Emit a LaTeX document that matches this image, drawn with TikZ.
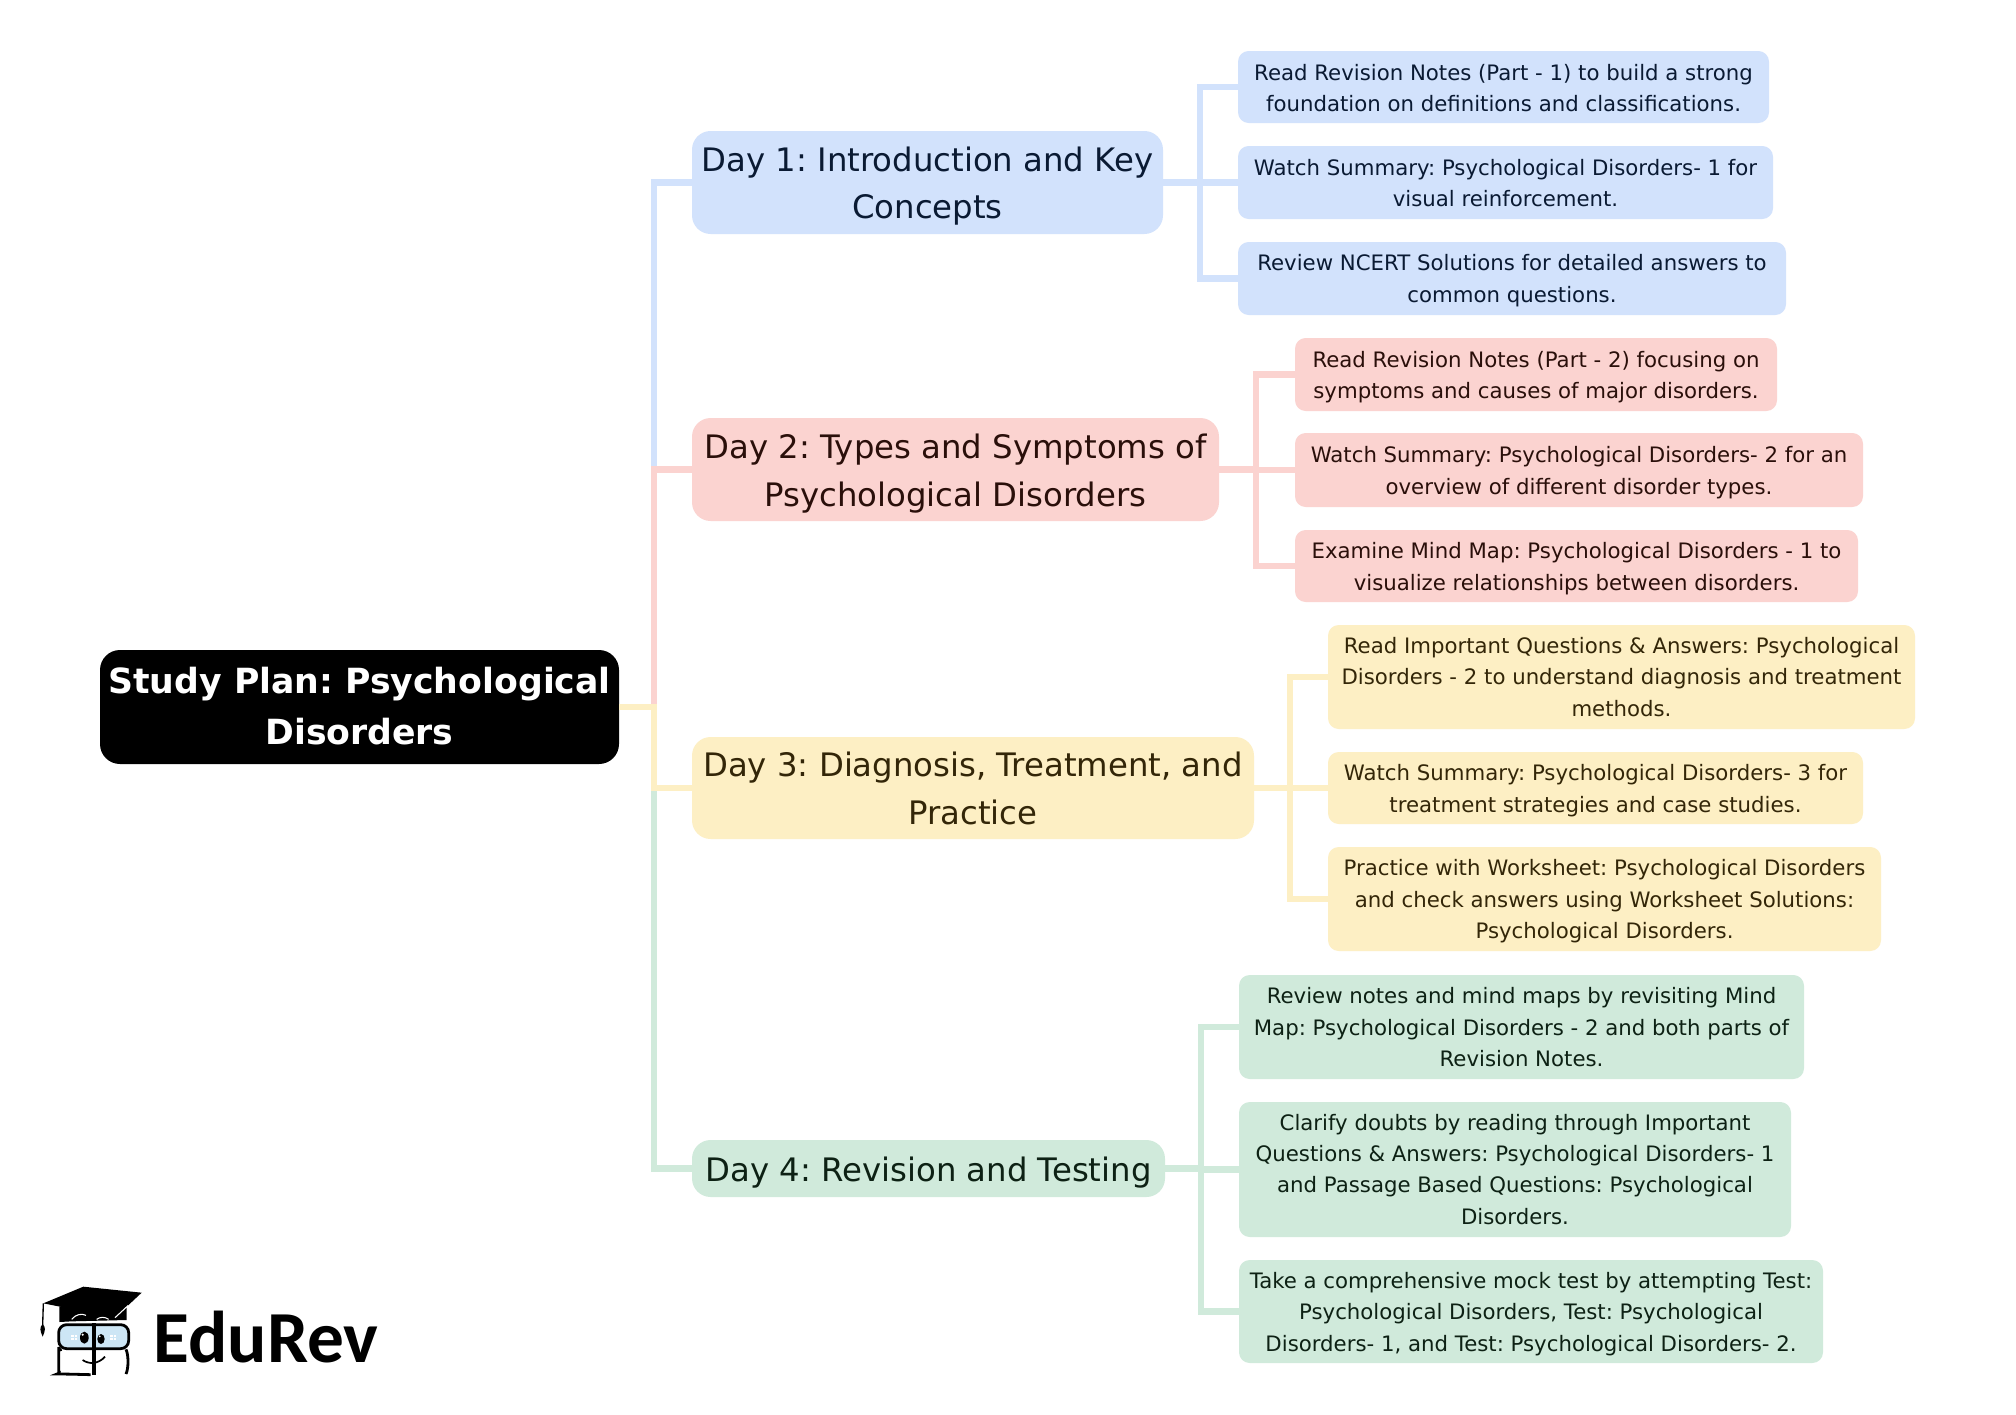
\documentclass[tikz,border=0pt]{standalone}
\usepackage{fontspec}
\setmainfont{DejaVu Sans}
\newfontfamily\logofont{Carlito}[Scale=1]
\definecolor{bluefill}{HTML}{D2E2FC}
\definecolor{pinkfill}{HTML}{FBD3D0}
\definecolor{yellowfill}{HTML}{FDEFC4}
\definecolor{greenfill}{HTML}{D0EADB}
\definecolor{bluetext}{HTML}{0A1A33}
\definecolor{pinktext}{HTML}{2A0F0A}
\definecolor{yellowtext}{HTML}{332608}
\definecolor{greentext}{HTML}{0D2114}
\definecolor{glass}{HTML}{CDE6F5}
\frenchspacing
\tikzset{
  x=0.75pt,y=-0.75pt,
  boxbase/.style={inner sep=0pt,align=center,draw=none},
  rootbox/.style={boxbase,fill=black,text=white,rounded corners=15pt,font=\fontsize{26}{38.2}\selectfont\bfseries},
  daybox/.style={boxbase,rounded corners=14pt,font=\fontsize{24.25}{35.6}\selectfont},
  leafbox/.style={boxbase,rounded corners=8pt,font=\fontsize{15.95}{23.6}\selectfont},
  bluec/.style={fill=bluefill,text=bluetext},
  pinkc/.style={fill=pinkfill,text=pinktext},
  yellowc/.style={fill=yellowfill,text=yellowtext},
  greenc/.style={fill=greenfill,text=greentext},
  linkbase/.style={line width=4.7pt,line join=miter,line cap=butt},
  bluelink/.style={linkbase,draw=bluefill},
  pinklink/.style={linkbase,draw=pinkfill},
  yellowlink/.style={linkbase,draw=yellowfill},
  greenlink/.style={linkbase,draw=greenfill},
}
\newcommand{\bx}[8]{%
  \node[#2,minimum width={(#5-#3)*0.75pt},minimum height={(#6-#4)*0.75pt}] (#1) at ({(#3+#5)/2},{(#4+#6)/2}) {\raisebox{\dimexpr-#8pt-0.25em\relax}[0pt][0pt]{\begin{tabular}{@{}c@{}}#7\end{tabular}}};}
\begin{document}
\begin{tikzpicture}
\fill[white] (0,0) rectangle (2016,1414);
\useasboundingbox (0,0) rectangle (2016,1414);
\coordinate (bus) at (654,0);
\coordinate (bus1) at (1200,0);
\coordinate (bus2) at (1256,0);
\coordinate (bus3) at (1290,0);
\coordinate (bus4) at (1201,0);

\bx{root}{rootbox}{100}{650}{619}{764}{Study Plan: Psychological\\Disorders}{1.4}
\bx{d1}{daybox,bluec}{692}{131}{1163}{234}{Day 1: Introduction and Key\\Concepts}{2.4}
\bx{d2}{daybox,pinkc}{692}{418}{1219}{521}{Day 2: Types and Symptoms of\\Psychological Disorders}{2.8}
\bx{d3}{daybox,yellowc}{692}{737}{1254}{839}{Day 3: Diagnosis, Treatment, and\\Practice}{2.4}
\bx{d4}{daybox,greenc}{692}{1140}{1165}{1197}{Day 4: Revision and Testing}{2.8}

\bx{a1}{leafbox,bluec}{1238}{51}{1769}{123}{Read Revision Notes (Part - 1) to build a strong\\foundation on definitions and classifications.}{2.3}
\bx{a2}{leafbox,bluec}{1238}{146}{1773}{219}{Watch Summary: Psychological Disorders- 1 for\\visual reinforcement.}{1.9}
\bx{a3}{leafbox,bluec}{1238}{242}{1786}{315}{Review NCERT Solutions for detailed answers to\\common questions.}{1.5}

\bx{b1}{leafbox,pinkc}{1295}{338}{1777}{411}{Read Revision Notes (Part - 2) focusing on\\symptoms and causes of major disorders.}{1.9}
\bx{b2}{leafbox,pinkc}{1295}{433}{1863}{507}{Watch Summary: Psychological Disorders- 2 for an\\overview of different disorder types.}{1.9}
\bx{b3}{leafbox,pinkc}{1295}{530}{1858}{602}{Examine Mind Map: Psychological Disorders - 1 to\\visualize relationships between disorders.}{1.9}

\bx{c1}{leafbox,yellowc}{1328}{625}{1915}{729}{Read Important Questions \& Answers: Psychological\\Disorders - 2 to understand diagnosis and treatment\\methods.}{1.4}
\bx{c2}{leafbox,yellowc}{1328}{752}{1863}{824}{Watch Summary: Psychological Disorders- 3 for\\treatment strategies and case studies.}{1.9}
\bx{c3}{leafbox,yellowc}{1328}{847}{1881}{951}{Practice with Worksheet: Psychological Disorders\\and check answers using Worksheet Solutions:\\Psychological Disorders.}{1.9}

\bx{e1}{leafbox,greenc}{1239}{975}{1804}{1079}{Review notes and mind maps by revisiting Mind\\Map: Psychological Disorders - 2 and both parts of\\Revision Notes.}{1.9}
\bx{e2}{leafbox,greenc}{1239}{1102}{1791}{1237}{Clarify doubts by reading through Important\\Questions \& Answers: Psychological Disorders- 1\\and Passage Based Questions: Psychological\\Disorders.}{1.4}
\bx{e3}{leafbox,greenc}{1239}{1260}{1823}{1363}{Take a comprehensive mock test by attempting Test:\\Psychological Disorders, Test: Psychological\\Disorders- 1, and Test: Psychological Disorders- 2.}{1.9}

\draw[bluelink] (root.east) -| (bus |- d1.west) -- (d1.west);
\draw[pinklink] (root.east) -| (bus |- d2.west) -- (d2.west);
\draw[greenlink] (root.east) -| (bus |- d4.west) -- (d4.west);
\draw[yellowlink] (root.east) -| (bus |- d3.west) -- (d3.west);

\foreach \t in {a1,a2,a3} \draw[bluelink] (d1.east) -| (bus1 |- \t.west) -- (\t.west);
\foreach \t in {b1,b2,b3} \draw[pinklink] (d2.east) -| (bus2 |- \t.west) -- (\t.west);
\foreach \t in {c1,c2,c3} \draw[yellowlink] (d3.east) -| (bus3 |- \t.west) -- (\t.west);
\foreach \t in {e1,e2,e3} \draw[greenlink] (d4.east) -| (bus4 |- \t.west) -- (\t.west);

% logo
\begin{scope}[shift={(0,1240)},x=0.25pt,y=-0.25pt]
\fill[black] (178,200) -- (178,246) -- (215,244) -- (380,240) -- (380,200) -- cycle;
\fill[black] (130,190) -- (250,140) -- (425,158) -- (345,233) -- cycle;
\draw[white,line width=0.8pt] (345,233) -- (385,196);
\draw[white,line width=0.8pt] (215,238) .. controls (228,222) and (245,220) .. (258,226);
\draw[white,line width=0.8pt] (290,238) .. controls (300,230) and (315,230) .. (326,238);
\draw[black,line width=1pt] (130,190) -- (128,255);
\fill[black] (128,252) .. controls (118,262) and (120,272) .. (128,290) .. controls (136,272) and (138,262) .. (128,252) -- cycle;
\draw[black,line width=2.1pt,fill=glass,rounded corners=6pt] (176,254) rectangle (386,326);
\draw[black,line width=2.1pt,rounded corners=6pt] (272,404) -- (195,402) .. controls (180,402) and (176,395) .. (176,380) -- (176,345) .. controls (176,335) and (178,330) .. (185,328);
\draw[black,line width=2.1pt,rounded corners=6pt] (378,402) .. controls (386,385) and (386,345) .. (378,328);
\fill[black] (277,250) rectangle (288,406);
\fill[black] (253,293) ellipse [x radius=13,y radius=18];
\fill[black] (303,297) ellipse [x radius=11,y radius=15];
\fill[white] (248,284) circle (3.5);
\fill[white] (299,289) circle (3);
\fill[white] (214,284) rectangle (230,299);
\fill[white] (331,284) rectangle (347,299);
\draw[glass,line width=0.4pt] (222,284) -- (222,299) (214,291) -- (230,291) (339,284) -- (339,299) (331,291) -- (347,291);
\draw[black,line width=1.3pt] (248,360) .. controls (268,374) and (295,372) .. (315,350);
\end{scope}
\node[anchor=base west,inner sep=0pt,font=\logofont\fontsize{55}{60}\selectfont\bfseries,text=black] (logotext) at (153.5,1362) {EduRev};
\end{tikzpicture}
\end{document}
